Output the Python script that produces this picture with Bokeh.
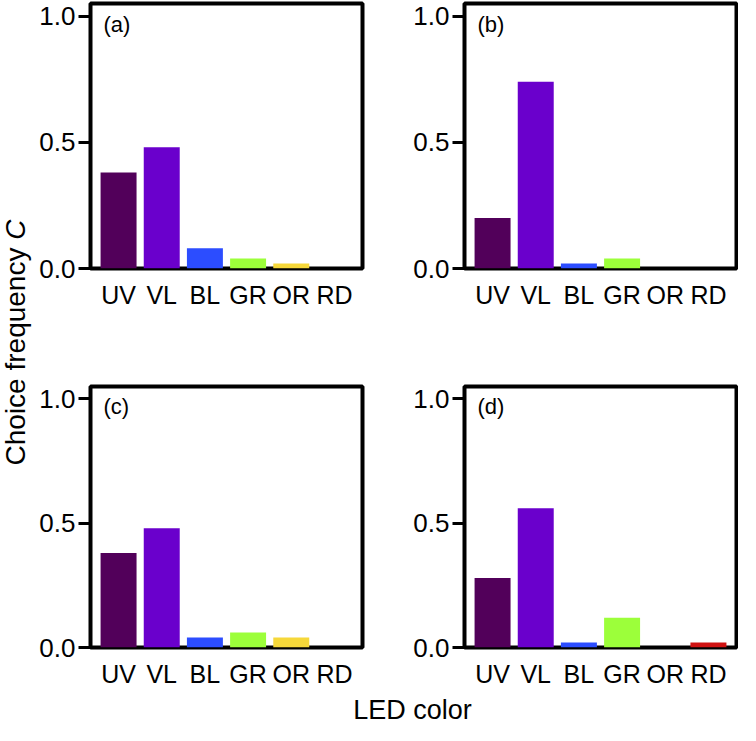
from bokeh.plotting import figure
from bokeh.models import Range1d, FactorRange, FixedTicker, Label, ColumnDataSource, PrintfTickFormatter
from bokeh.layouts import row, column
from bokeh.embed import file_html
from bokeh.resources import INLINE

# ---- data ----
categories = ["UV", "VL", "BL", "GR", "OR", "RD"]
bar_colors = ["#52005a", "#6a00cc", "#2c4dff", "#9cff3a", "#f6d83a", "#d01212"]
panel_names = ["(a)", "(b)", "(c)", "(d)"]
freq_a = [0.38, 0.48, 0.08, 0.04, 0.02, 0.00]
freq_b = [0.20, 0.74, 0.02, 0.04, 0.00, 0.00]
freq_c = [0.38, 0.48, 0.04, 0.06, 0.04, 0.00]
freq_d = [0.28, 0.56, 0.02, 0.12, 0.00, 0.02]
y_ticks = [0.0, 0.5, 1.0]
y_label = "Choice frequency"
y_label_symbol = "C"
x_label = "LED color"

FONT = "Liberation Sans"
FW, FH = 272, 270
Y_END = 1.05
PAD = 0.15


def panel(vals, name, left, right, top, bottom):
    p = figure(width=left + FW + right, height=top + FH + bottom,
               x_range=FactorRange(factors=categories, range_padding=PAD,
                                   range_padding_units="absolute"),
               y_range=Range1d(0, Y_END),
               toolbar_location=None, output_backend="svg",
               min_border_left=left, min_border_right=right,
               min_border_top=top, min_border_bottom=bottom)
    src = ColumnDataSource(dict(cat=categories, val=vals, col=bar_colors))
    p.vbar(x="cat", top="val", width=1 / 1.2, bottom=0, source=src,
           fill_color="col", line_color=None)
    p.xgrid.visible = False
    p.ygrid.visible = False
    p.outline_line_color = "black"
    p.outline_line_width = 4
    p.outline_line_alpha = 1.0
    p.background_fill_color = "white"
    p.border_fill_color = "white"

    ya = p.yaxis[0]
    ya.ticker = FixedTicker(ticks=y_ticks)
    ya.formatter = PrintfTickFormatter(format="%.1f")
    ya.axis_line_color = None
    ya.major_tick_out = 12
    ya.major_tick_in = 0
    ya.major_tick_line_width = 3
    ya.major_tick_line_color = "black"
    ya.minor_tick_line_color = None
    ya.major_label_standoff = 3
    ya.major_label_text_font = FONT
    ya.major_label_text_font_size = "26px"
    ya.major_label_text_color = "black"

    xa = p.xaxis[0]
    xa.axis_line_color = None
    xa.major_tick_line_color = None
    xa.minor_tick_line_color = None
    xa.major_label_standoff = 6
    xa.major_label_text_font = FONT
    xa.major_label_text_font_size = "25px"
    xa.major_label_text_color = "black"

    px_per_x = FW / (len(categories) + 2 * PAD)
    px_per_y = FH / Y_END
    p.add_layout(Label(x=-PAD + 13 / px_per_x, y=Y_END - 21 / px_per_y, text=name,
                       text_font=FONT, text_font_size="22px", text_color="black",
                       text_align="left", text_baseline="middle"))
    return p


fa = panel(freq_a, panel_names[0], 56, 6, 3, 38)
fb = panel(freq_b, panel_names[1], 96, 2, 3, 38)
fc = panel(freq_c, panel_names[2], 56, 6, 75, 34)
fd = panel(freq_d, panel_names[3], 96, 2, 75, 34)

grid_h = fa.height + fc.height
YL_W = 34
ylab = figure(width=YL_W, height=grid_h, x_range=Range1d(0, YL_W), y_range=Range1d(0, grid_h),
              x_axis_type=None, y_axis_type=None, toolbar_location=None,
              output_backend="svg", min_border=0, outline_line_color=None)
ylab.xgrid.visible = False
ylab.ygrid.visible = False
fs = 28
w_main = 7.781 * fs
w_space = 0.278 * fs
w_c = 0.722 * fs
center = grid_h - 342
start = center - (w_main + w_space + w_c) / 2
ylab.add_layout(Label(x=YL_W / 2 - 2, y=start + w_main, text=y_label, angle=1.5707963,
                      text_font=FONT, text_font_size=f"{fs}px", text_color="black",
                      text_align="right", text_baseline="middle"))
ylab.add_layout(Label(x=YL_W / 2 - 2, y=start + w_main + w_space, text=y_label_symbol, angle=1.5707963,
                      text_font=FONT, text_font_size=f"{fs}px", text_font_style="italic",
                      text_color="black", text_align="left", text_baseline="middle"))

total_w = YL_W + fa.width + fb.width
XL_H = 36
xlab = figure(width=total_w, height=XL_H, x_range=Range1d(0, total_w), y_range=Range1d(0, XL_H),
              x_axis_type=None, y_axis_type=None, toolbar_location=None,
              output_backend="svg", min_border=0, outline_line_color=None)
xlab.xgrid.visible = False
xlab.ygrid.visible = False
xlab.add_layout(Label(x=412, y=XL_H / 2 - 1, text=x_label,
                      text_font=FONT, text_font_size="27px", text_color="black",
                      text_align="center", text_baseline="middle"))

layout = column(row(ylab, column(row(fa, fb), row(fc, fd))), xlab)

with open("out.html", "w") as f:
    f.write(file_html(layout, INLINE))
